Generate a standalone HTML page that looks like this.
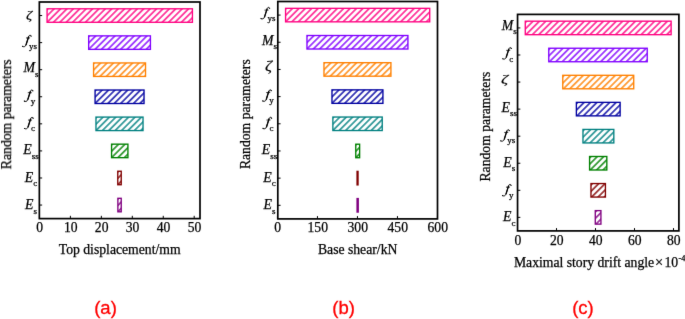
<!DOCTYPE html>
<html><head><meta charset="utf-8"><style>
html,body{margin:0;padding:0;background:#fff;}
body{width:685px;height:319px;overflow:hidden;}
svg{display:block;will-change:transform;}
text{font-family:"Liberation Serif",serif;stroke:#000;stroke-width:0.25;}
.tag{stroke:#FF0000;stroke-width:0.3;}
.tag{font-family:"Liberation Sans",sans-serif;}
</style></head><body>
<svg width="685" height="319" viewBox="0 0 685 319">
<defs>
<pattern id="h0_0" patternUnits="userSpaceOnUse" width="4.525" height="4.525" patternTransform="rotate(45) translate(49.025,0)"><rect x="0" y="0" width="0.7" height="4.525" fill="#FF0080"/><rect x="3.825" y="0" width="0.7" height="4.525" fill="#FF0080"/></pattern>
<pattern id="h0_1" patternUnits="userSpaceOnUse" width="4.525" height="4.525" patternTransform="rotate(45) translate(97.586,0)"><rect x="0" y="0" width="0.7" height="4.525" fill="#8000FF"/><rect x="3.825" y="0" width="0.7" height="4.525" fill="#8000FF"/></pattern>
<pattern id="h0_2" patternUnits="userSpaceOnUse" width="4.525" height="4.525" patternTransform="rotate(45) translate(120.196,0)"><rect x="0" y="0" width="0.7" height="4.525" fill="#FF8000"/><rect x="3.825" y="0" width="0.7" height="4.525" fill="#FF8000"/></pattern>
<pattern id="h0_3" patternUnits="userSpaceOnUse" width="4.525" height="4.525" patternTransform="rotate(45) translate(140.401,0)"><rect x="0" y="0" width="0.7" height="4.525" fill="#0000A0"/><rect x="3.825" y="0" width="0.7" height="4.525" fill="#0000A0"/></pattern>
<pattern id="h0_4" patternUnits="userSpaceOnUse" width="4.525" height="4.525" patternTransform="rotate(45) translate(160.183,0)"><rect x="0" y="0" width="0.7" height="4.525" fill="#008080"/><rect x="3.825" y="0" width="0.7" height="4.525" fill="#008080"/></pattern>
<pattern id="h0_5" patternUnits="userSpaceOnUse" width="4.525" height="4.525" patternTransform="rotate(45) translate(190.358,0)"><rect x="0" y="0" width="0.7" height="4.525" fill="#008000"/><rect x="3.825" y="0" width="0.7" height="4.525" fill="#008000"/></pattern>
<pattern id="h0_6" patternUnits="userSpaceOnUse" width="4.525" height="4.525" patternTransform="rotate(45) translate(213.887,0)"><rect x="0" y="0" width="0.7" height="4.525" fill="#800000"/><rect x="3.825" y="0" width="0.7" height="4.525" fill="#800000"/></pattern>
<pattern id="h0_7" patternUnits="userSpaceOnUse" width="4.525" height="4.525" patternTransform="rotate(45) translate(233.103,0)"><rect x="0" y="0" width="0.7" height="4.525" fill="#800080"/><rect x="3.825" y="0" width="0.7" height="4.525" fill="#800080"/></pattern>
<pattern id="h1_0" patternUnits="userSpaceOnUse" width="4.525" height="4.525" patternTransform="rotate(45) translate(217.317,0)"><rect x="0" y="0" width="0.7" height="4.525" fill="#FF0080"/><rect x="3.825" y="0" width="0.7" height="4.525" fill="#FF0080"/></pattern>
<pattern id="h1_1" patternUnits="userSpaceOnUse" width="4.525" height="4.525" patternTransform="rotate(45) translate(251.665,0)"><rect x="0" y="0" width="0.7" height="4.525" fill="#8000FF"/><rect x="3.825" y="0" width="0.7" height="4.525" fill="#8000FF"/></pattern>
<pattern id="h1_2" patternUnits="userSpaceOnUse" width="4.525" height="4.525" patternTransform="rotate(45) translate(282.901,0)"><rect x="0" y="0" width="0.7" height="4.525" fill="#FF8000"/><rect x="3.825" y="0" width="0.7" height="4.525" fill="#FF8000"/></pattern>
<pattern id="h1_3" patternUnits="userSpaceOnUse" width="4.525" height="4.525" patternTransform="rotate(45) translate(307.774,0)"><rect x="0" y="0" width="0.7" height="4.525" fill="#0000A0"/><rect x="3.825" y="0" width="0.7" height="4.525" fill="#0000A0"/></pattern>
<pattern id="h1_4" patternUnits="userSpaceOnUse" width="4.525" height="4.525" patternTransform="rotate(45) translate(327.626,0)"><rect x="0" y="0" width="0.7" height="4.525" fill="#008080"/><rect x="3.825" y="0" width="0.7" height="4.525" fill="#008080"/></pattern>
<pattern id="h1_5" patternUnits="userSpaceOnUse" width="4.525" height="4.525" patternTransform="rotate(45) translate(363.034,0)"><rect x="0" y="0" width="0.7" height="4.525" fill="#008000"/><rect x="3.825" y="0" width="0.7" height="4.525" fill="#008000"/></pattern>
<pattern id="h1_6" patternUnits="userSpaceOnUse" width="4.525" height="4.525" patternTransform="rotate(45) translate(383.169,0)"><rect x="0" y="0" width="0.7" height="4.525" fill="#800000"/><rect x="3.825" y="0" width="0.7" height="4.525" fill="#800000"/></pattern>
<pattern id="h1_7" patternUnits="userSpaceOnUse" width="4.525" height="4.525" patternTransform="rotate(45) translate(402.384,0)"><rect x="0" y="0" width="0.7" height="4.525" fill="#800080"/><rect x="3.825" y="0" width="0.7" height="4.525" fill="#800080"/></pattern>
<pattern id="h2_0" patternUnits="userSpaceOnUse" width="4.525" height="4.525" patternTransform="rotate(45) translate(396.423,0)"><rect x="0" y="0" width="0.7" height="4.525" fill="#FF0080"/><rect x="3.825" y="0" width="0.7" height="4.525" fill="#FF0080"/></pattern>
<pattern id="h2_1" patternUnits="userSpaceOnUse" width="4.525" height="4.525" patternTransform="rotate(45) translate(432.176,0)"><rect x="0" y="0" width="0.7" height="4.525" fill="#8000FF"/><rect x="3.825" y="0" width="0.7" height="4.525" fill="#8000FF"/></pattern>
<pattern id="h2_2" patternUnits="userSpaceOnUse" width="4.525" height="4.525" patternTransform="rotate(45) translate(461.211,0)"><rect x="0" y="0" width="0.7" height="4.525" fill="#FF8000"/><rect x="3.825" y="0" width="0.7" height="4.525" fill="#FF8000"/></pattern>
<pattern id="h2_3" patternUnits="userSpaceOnUse" width="4.525" height="4.525" patternTransform="rotate(45) translate(489.964,0)"><rect x="0" y="0" width="0.7" height="4.525" fill="#0000A0"/><rect x="3.825" y="0" width="0.7" height="4.525" fill="#0000A0"/></pattern>
<pattern id="h2_4" patternUnits="userSpaceOnUse" width="4.525" height="4.525" patternTransform="rotate(45) translate(513.767,0)"><rect x="0" y="0" width="0.7" height="4.525" fill="#008080"/><rect x="3.825" y="0" width="0.7" height="4.525" fill="#008080"/></pattern>
<pattern id="h2_5" patternUnits="userSpaceOnUse" width="4.525" height="4.525" patternTransform="rotate(45) translate(537.57,0)"><rect x="0" y="0" width="0.7" height="4.525" fill="#008000"/><rect x="3.825" y="0" width="0.7" height="4.525" fill="#008000"/></pattern>
<pattern id="h2_6" patternUnits="userSpaceOnUse" width="4.525" height="4.525" patternTransform="rotate(45) translate(557.696,0)"><rect x="0" y="0" width="0.7" height="4.525" fill="#800000"/><rect x="3.825" y="0" width="0.7" height="4.525" fill="#800000"/></pattern>
<pattern id="h2_7" patternUnits="userSpaceOnUse" width="4.525" height="4.525" patternTransform="rotate(45) translate(579.873,0)"><rect x="0" y="0" width="0.7" height="4.525" fill="#800080"/><rect x="3.825" y="0" width="0.7" height="4.525" fill="#800080"/></pattern>
<filter id="bl" x="0" y="0" width="685" height="319" filterUnits="userSpaceOnUse" color-interpolation-filters="sRGB"><feConvolveMatrix order="3" kernelMatrix="0.0052 0.0619 0.0052 0.0619 0.7314 0.0619 0.0052 0.0619 0.0052" edgeMode="duplicate"/></filter>
</defs>
<g filter="url(#bl)">
<rect x="0" y="0" width="685" height="319" fill="#fff"/>
<rect x="47.075" y="8.787" width="145.35" height="13.5" fill="url(#h0_0)" stroke="#FF0080" stroke-width="1.35"/>
<rect x="88.675" y="35.862" width="61.75" height="13.5" fill="url(#h0_1)" stroke="#8000FF" stroke-width="1.35"/>
<rect x="93.575" y="62.938" width="51.95" height="13.5" fill="url(#h0_2)" stroke="#FF8000" stroke-width="1.35"/>
<rect x="95.075" y="90.013" width="48.95" height="13.5" fill="url(#h0_3)" stroke="#0000A0" stroke-width="1.35"/>
<rect x="95.975" y="117.087" width="47.05" height="13.5" fill="url(#h0_4)" stroke="#008080" stroke-width="1.35"/>
<rect x="111.575" y="144.162" width="16.35" height="13.5" fill="url(#h0_5)" stroke="#008000" stroke-width="1.35"/>
<rect x="117.775" y="171.237" width="3.45" height="13.5" fill="url(#h0_6)" stroke="#800000" stroke-width="1.35"/>
<rect x="117.875" y="198.312" width="3.35" height="13.5" fill="url(#h0_7)" stroke="#800080" stroke-width="1.35"/>
<rect x="39.35" y="2" width="160.65" height="216.6" fill="none" stroke="#000" stroke-width="1.7"/>
<line x1="39.35" y1="15.537" x2="42.15" y2="15.537" stroke="#000" stroke-width="1.0"/>
<line x1="39.35" y1="42.612" x2="42.15" y2="42.612" stroke="#000" stroke-width="1.0"/>
<line x1="39.35" y1="69.688" x2="42.15" y2="69.688" stroke="#000" stroke-width="1.0"/>
<line x1="39.35" y1="96.763" x2="42.15" y2="96.763" stroke="#000" stroke-width="1.0"/>
<line x1="39.35" y1="123.837" x2="42.15" y2="123.837" stroke="#000" stroke-width="1.0"/>
<line x1="39.35" y1="150.912" x2="42.15" y2="150.912" stroke="#000" stroke-width="1.0"/>
<line x1="39.35" y1="177.987" x2="42.15" y2="177.987" stroke="#000" stroke-width="1.0"/>
<line x1="39.35" y1="205.062" x2="42.15" y2="205.062" stroke="#000" stroke-width="1.0"/>
<line x1="39.45" y1="218.6" x2="39.45" y2="215.8" stroke="#000" stroke-width="1.0"/>
<text x="39.75" y="231.8" font-size="13.6" text-anchor="middle">0</text>
<line x1="70.4" y1="218.6" x2="70.4" y2="215.8" stroke="#000" stroke-width="1.0"/>
<text x="70.7" y="231.8" font-size="13.6" text-anchor="middle">10</text>
<line x1="101.35" y1="218.6" x2="101.35" y2="215.8" stroke="#000" stroke-width="1.0"/>
<text x="101.65" y="231.8" font-size="13.6" text-anchor="middle">20</text>
<line x1="132.3" y1="218.6" x2="132.3" y2="215.8" stroke="#000" stroke-width="1.0"/>
<text x="132.6" y="231.8" font-size="13.6" text-anchor="middle">30</text>
<line x1="163.25" y1="218.6" x2="163.25" y2="215.8" stroke="#000" stroke-width="1.0"/>
<text x="163.55" y="231.8" font-size="13.6" text-anchor="middle">40</text>
<line x1="194.2" y1="218.6" x2="194.2" y2="215.8" stroke="#000" stroke-width="1.0"/>
<text x="194.5" y="231.8" font-size="13.6" text-anchor="middle">50</text>
<text transform="translate(25.9,18.5) scale(1.28,1)" x="0" y="0" font-size="12.0" font-style="italic" style="stroke-width:0.15">ζ</text>
<g transform="translate(25.131,44.862)" fill="none" stroke="#000" stroke-linecap="round"><path d="M6.0,-8.9 C5.6,-10 4.3,-10.1 3.6,-8.5 L0.8,0.2 C0.2,1.9 -1.3,2.3 -2.6,1.6" stroke-width="0.95"/><path d="M3.4,-7.9 L1.0,-0.2" stroke-width="1.3"/><path d="M1.3,-6.9 H4.5" stroke-width="0.8"/><circle cx="5.9" cy="-8.8" r="0.6" fill="#000" stroke="none"/><circle cx="-2.45" cy="1.5" r="0.6" fill="#000" stroke="none"/></g>
<text x="28.968" y="48.862" font-size="9.0">ys</text>
<text x="23.552" y="72.237" font-size="13.8" font-style="italic">M</text>
<text x="35.047" y="76.688" font-size="9.0">s</text>
<g transform="translate(26.882,99.612)" fill="none" stroke="#000" stroke-linecap="round"><path d="M6.0,-8.9 C5.6,-10 4.3,-10.1 3.6,-8.5 L0.8,0.2 C0.2,1.9 -1.3,2.3 -2.6,1.6" stroke-width="0.95"/><path d="M3.4,-7.9 L1.0,-0.2" stroke-width="1.3"/><path d="M1.3,-6.9 H4.5" stroke-width="0.8"/><circle cx="5.9" cy="-8.8" r="0.6" fill="#000" stroke="none"/><circle cx="-2.45" cy="1.5" r="0.6" fill="#000" stroke="none"/></g>
<text x="30.718" y="103.612" font-size="9.0">y</text>
<g transform="translate(27.134,126.987)" fill="none" stroke="#000" stroke-linecap="round"><path d="M6.0,-8.9 C5.6,-10 4.3,-10.1 3.6,-8.5 L0.8,0.2 C0.2,1.9 -1.3,2.3 -2.6,1.6" stroke-width="0.95"/><path d="M3.4,-7.9 L1.0,-0.2" stroke-width="1.3"/><path d="M1.3,-6.9 H4.5" stroke-width="0.8"/><circle cx="5.9" cy="-8.8" r="0.6" fill="#000" stroke="none"/><circle cx="-2.45" cy="1.5" r="0.6" fill="#000" stroke="none"/></g>
<text x="30.97" y="131.438" font-size="9.0">c</text>
<text x="23.333" y="154.362" font-size="13.8" font-style="italic">E</text>
<text x="31.765" y="158.812" font-size="9.0">ss</text>
<text x="24.836" y="181.737" font-size="13.8" font-style="italic">E</text>
<text x="33.268" y="186.187" font-size="9.0">c</text>
<text x="25.084" y="209.113" font-size="13.8" font-style="italic">E</text>
<text x="33.515" y="213.562" font-size="9.0">s</text>
<text transform="translate(11,114.3) rotate(-90)" x="0" y="0" font-size="13.7" text-anchor="middle">Random parameters</text>
<text x="119.675" y="253.6" font-size="13.7" text-anchor="middle">Top displacement/mm</text>
<text class="tag" x="105.5" y="313.9" font-size="18.5" fill="#FF0000" text-anchor="middle">(a)</text>
<rect x="285.575" y="8.338" width="144.15" height="13.5" fill="url(#h1_0)" stroke="#FF0080" stroke-width="1.35"/>
<rect x="306.975" y="35.513" width="100.95" height="13.5" fill="url(#h1_1)" stroke="#8000FF" stroke-width="1.35"/>
<rect x="323.975" y="62.688" width="66.95" height="13.5" fill="url(#h1_2)" stroke="#FF8000" stroke-width="1.35"/>
<rect x="331.975" y="89.862" width="50.95" height="13.5" fill="url(#h1_3)" stroke="#0000A0" stroke-width="1.35"/>
<rect x="332.875" y="117.038" width="49.35" height="13.5" fill="url(#h1_4)" stroke="#008080" stroke-width="1.35"/>
<rect x="355.775" y="144.213" width="3.85" height="13.5" fill="url(#h1_5)" stroke="#008000" stroke-width="1.35"/>
<rect x="357.075" y="171.388" width="0.95" height="13.5" fill="url(#h1_6)" stroke="#800000" stroke-width="1.35"/>
<rect x="357.075" y="198.562" width="1.15" height="13.5" fill="url(#h1_7)" stroke="#800080" stroke-width="1.35"/>
<rect x="277.8" y="1.5" width="159.7" height="217.4" fill="none" stroke="#000" stroke-width="1.7"/>
<line x1="277.8" y1="15.088" x2="280.6" y2="15.088" stroke="#000" stroke-width="1.0"/>
<line x1="277.8" y1="42.263" x2="280.6" y2="42.263" stroke="#000" stroke-width="1.0"/>
<line x1="277.8" y1="69.438" x2="280.6" y2="69.438" stroke="#000" stroke-width="1.0"/>
<line x1="277.8" y1="96.612" x2="280.6" y2="96.612" stroke="#000" stroke-width="1.0"/>
<line x1="277.8" y1="123.788" x2="280.6" y2="123.788" stroke="#000" stroke-width="1.0"/>
<line x1="277.8" y1="150.963" x2="280.6" y2="150.963" stroke="#000" stroke-width="1.0"/>
<line x1="277.8" y1="178.138" x2="280.6" y2="178.138" stroke="#000" stroke-width="1.0"/>
<line x1="277.8" y1="205.312" x2="280.6" y2="205.312" stroke="#000" stroke-width="1.0"/>
<line x1="277.45" y1="218.9" x2="277.45" y2="216.1" stroke="#000" stroke-width="1.0"/>
<text x="277.75" y="231.8" font-size="13.6" text-anchor="middle">0</text>
<line x1="317.45" y1="218.9" x2="317.45" y2="216.1" stroke="#000" stroke-width="1.0"/>
<text x="317.75" y="231.8" font-size="13.6" text-anchor="middle">150</text>
<line x1="357.45" y1="218.9" x2="357.45" y2="216.1" stroke="#000" stroke-width="1.0"/>
<text x="357.75" y="231.8" font-size="13.6" text-anchor="middle">300</text>
<line x1="397.45" y1="218.9" x2="397.45" y2="216.1" stroke="#000" stroke-width="1.0"/>
<text x="397.75" y="231.8" font-size="13.6" text-anchor="middle">450</text>
<line x1="437.45" y1="218.9" x2="437.45" y2="216.1" stroke="#000" stroke-width="1.0"/>
<text x="437.75" y="231.8" font-size="13.6" text-anchor="middle">600</text>
<g transform="translate(263.581,17.037)" fill="none" stroke="#000" stroke-linecap="round"><path d="M6.0,-8.9 C5.6,-10 4.3,-10.1 3.6,-8.5 L0.8,0.2 C0.2,1.9 -1.3,2.3 -2.6,1.6" stroke-width="0.95"/><path d="M3.4,-7.9 L1.0,-0.2" stroke-width="1.3"/><path d="M1.3,-6.9 H4.5" stroke-width="0.8"/><circle cx="5.9" cy="-8.8" r="0.6" fill="#000" stroke="none"/><circle cx="-2.45" cy="1.5" r="0.6" fill="#000" stroke="none"/></g>
<text x="267.418" y="21.037" font-size="9.0">ys</text>
<text x="262.002" y="44.513" font-size="13.8" font-style="italic">M</text>
<text x="273.497" y="48.963" font-size="9.0">s</text>
<text transform="translate(264.9,71) scale(1.28,1)" x="0" y="0" font-size="13.6" font-style="italic" style="stroke-width:0.15">ζ</text>
<g transform="translate(265.332,99.462)" fill="none" stroke="#000" stroke-linecap="round"><path d="M6.0,-8.9 C5.6,-10 4.3,-10.1 3.6,-8.5 L0.8,0.2 C0.2,1.9 -1.3,2.3 -2.6,1.6" stroke-width="0.95"/><path d="M3.4,-7.9 L1.0,-0.2" stroke-width="1.3"/><path d="M1.3,-6.9 H4.5" stroke-width="0.8"/><circle cx="5.9" cy="-8.8" r="0.6" fill="#000" stroke="none"/><circle cx="-2.45" cy="1.5" r="0.6" fill="#000" stroke="none"/></g>
<text x="269.168" y="103.462" font-size="9.0">y</text>
<g transform="translate(265.584,126.938)" fill="none" stroke="#000" stroke-linecap="round"><path d="M6.0,-8.9 C5.6,-10 4.3,-10.1 3.6,-8.5 L0.8,0.2 C0.2,1.9 -1.3,2.3 -2.6,1.6" stroke-width="0.95"/><path d="M3.4,-7.9 L1.0,-0.2" stroke-width="1.3"/><path d="M1.3,-6.9 H4.5" stroke-width="0.8"/><circle cx="5.9" cy="-8.8" r="0.6" fill="#000" stroke="none"/><circle cx="-2.45" cy="1.5" r="0.6" fill="#000" stroke="none"/></g>
<text x="269.42" y="131.388" font-size="9.0">c</text>
<text x="261.783" y="154.412" font-size="13.8" font-style="italic">E</text>
<text x="270.215" y="158.862" font-size="9.0">ss</text>
<text x="263.286" y="181.888" font-size="13.8" font-style="italic">E</text>
<text x="271.718" y="186.338" font-size="9.0">c</text>
<text x="263.534" y="209.363" font-size="13.8" font-style="italic">E</text>
<text x="271.965" y="213.812" font-size="9.0">s</text>
<text transform="translate(250,114.2) rotate(-90)" x="0" y="0" font-size="13.7" text-anchor="middle">Random parameters</text>
<text x="357.65" y="253.6" font-size="13.7" text-anchor="middle">Base shear/kN</text>
<text class="tag" x="343.6" y="313.9" font-size="18.5" fill="#FF0000" text-anchor="middle">(b)</text>
<rect x="525.275" y="21.181" width="145.85" height="13.5" fill="url(#h2_0)" stroke="#FF0080" stroke-width="1.35"/>
<rect x="548.775" y="48.244" width="98.45" height="13.5" fill="url(#h2_1)" stroke="#8000FF" stroke-width="1.35"/>
<rect x="562.775" y="75.306" width="70.95" height="13.5" fill="url(#h2_2)" stroke="#FF8000" stroke-width="1.35"/>
<rect x="576.375" y="102.369" width="43.75" height="13.5" fill="url(#h2_3)" stroke="#0000A0" stroke-width="1.35"/>
<rect x="582.975" y="129.431" width="30.85" height="13.5" fill="url(#h2_4)" stroke="#008080" stroke-width="1.35"/>
<rect x="589.575" y="156.494" width="17.25" height="13.5" fill="url(#h2_5)" stroke="#008000" stroke-width="1.35"/>
<rect x="590.975" y="183.556" width="14.45" height="13.5" fill="url(#h2_6)" stroke="#800000" stroke-width="1.35"/>
<rect x="595.275" y="210.619" width="5.65" height="13.5" fill="url(#h2_7)" stroke="#800080" stroke-width="1.35"/>
<rect x="517.55" y="14.4" width="161.35" height="216.5" fill="none" stroke="#000" stroke-width="1.7"/>
<line x1="517.55" y1="27.931" x2="520.35" y2="27.931" stroke="#000" stroke-width="1.0"/>
<line x1="517.55" y1="54.994" x2="520.35" y2="54.994" stroke="#000" stroke-width="1.0"/>
<line x1="517.55" y1="82.056" x2="520.35" y2="82.056" stroke="#000" stroke-width="1.0"/>
<line x1="517.55" y1="109.119" x2="520.35" y2="109.119" stroke="#000" stroke-width="1.0"/>
<line x1="517.55" y1="136.181" x2="520.35" y2="136.181" stroke="#000" stroke-width="1.0"/>
<line x1="517.55" y1="163.244" x2="520.35" y2="163.244" stroke="#000" stroke-width="1.0"/>
<line x1="517.55" y1="190.306" x2="520.35" y2="190.306" stroke="#000" stroke-width="1.0"/>
<line x1="517.55" y1="217.369" x2="520.35" y2="217.369" stroke="#000" stroke-width="1.0"/>
<line x1="517.5" y1="230.9" x2="517.5" y2="228.1" stroke="#000" stroke-width="1.0"/>
<text x="517.8" y="244.9" font-size="13.6" text-anchor="middle">0</text>
<line x1="556.5" y1="230.9" x2="556.5" y2="228.1" stroke="#000" stroke-width="1.0"/>
<text x="556.8" y="244.9" font-size="13.6" text-anchor="middle">20</text>
<line x1="595.5" y1="230.9" x2="595.5" y2="228.1" stroke="#000" stroke-width="1.0"/>
<text x="595.8" y="244.9" font-size="13.6" text-anchor="middle">40</text>
<line x1="634.5" y1="230.9" x2="634.5" y2="228.1" stroke="#000" stroke-width="1.0"/>
<text x="634.8" y="244.9" font-size="13.6" text-anchor="middle">60</text>
<line x1="673.5" y1="230.9" x2="673.5" y2="228.1" stroke="#000" stroke-width="1.0"/>
<text x="673.8" y="244.9" font-size="13.6" text-anchor="middle">80</text>
<text x="501.752" y="29.881" font-size="13.8" font-style="italic">M</text>
<text x="513.247" y="34.331" font-size="9.0">s</text>
<g transform="translate(505.334,57.244)" fill="none" stroke="#000" stroke-linecap="round"><path d="M6.0,-8.9 C5.6,-10 4.3,-10.1 3.6,-8.5 L0.8,0.2 C0.2,1.9 -1.3,2.3 -2.6,1.6" stroke-width="0.95"/><path d="M3.4,-7.9 L1.0,-0.2" stroke-width="1.3"/><path d="M1.3,-6.9 H4.5" stroke-width="0.8"/><circle cx="5.9" cy="-8.8" r="0.6" fill="#000" stroke="none"/><circle cx="-2.45" cy="1.5" r="0.6" fill="#000" stroke="none"/></g>
<text x="509.17" y="61.694" font-size="9.0">c</text>
<text transform="translate(501.1,83.4) scale(1.33,1)" x="0" y="0" font-size="13.3" font-style="italic" style="stroke-width:0.15">ζ</text>
<text x="501.533" y="111.969" font-size="13.8" font-style="italic">E</text>
<text x="509.965" y="116.419" font-size="9.0">ss</text>
<g transform="translate(503.331,139.331)" fill="none" stroke="#000" stroke-linecap="round"><path d="M6.0,-8.9 C5.6,-10 4.3,-10.1 3.6,-8.5 L0.8,0.2 C0.2,1.9 -1.3,2.3 -2.6,1.6" stroke-width="0.95"/><path d="M3.4,-7.9 L1.0,-0.2" stroke-width="1.3"/><path d="M1.3,-6.9 H4.5" stroke-width="0.8"/><circle cx="5.9" cy="-8.8" r="0.6" fill="#000" stroke="none"/><circle cx="-2.45" cy="1.5" r="0.6" fill="#000" stroke="none"/></g>
<text x="507.168" y="143.331" font-size="9.0">ys</text>
<text x="503.284" y="166.694" font-size="13.8" font-style="italic">E</text>
<text x="511.715" y="171.144" font-size="9.0">s</text>
<g transform="translate(505.082,194.056)" fill="none" stroke="#000" stroke-linecap="round"><path d="M6.0,-8.9 C5.6,-10 4.3,-10.1 3.6,-8.5 L0.8,0.2 C0.2,1.9 -1.3,2.3 -2.6,1.6" stroke-width="0.95"/><path d="M3.4,-7.9 L1.0,-0.2" stroke-width="1.3"/><path d="M1.3,-6.9 H4.5" stroke-width="0.8"/><circle cx="5.9" cy="-8.8" r="0.6" fill="#000" stroke="none"/><circle cx="-2.45" cy="1.5" r="0.6" fill="#000" stroke="none"/></g>
<text x="508.918" y="198.056" font-size="9.0">y</text>
<text x="503.036" y="221.419" font-size="13.8" font-style="italic">E</text>
<text x="511.468" y="225.869" font-size="9.0">c</text>
<text transform="translate(490,126.65) rotate(-90)" x="0" y="0" font-size="13.7" text-anchor="middle">Random parameters</text>
<text x="513.9" y="267" font-size="13.7">Maximal story drift angle<tspan dx="0.9" font-size="14.5">×</tspan><tspan dx="1.2">10</tspan><tspan font-size="8.2" dx="0.4" dy="-6.2">-4</tspan></text>
<text class="tag" x="583" y="313.9" font-size="18.5" fill="#FF0000" text-anchor="middle">(c)</text>
</g>
</svg>
</body></html>
